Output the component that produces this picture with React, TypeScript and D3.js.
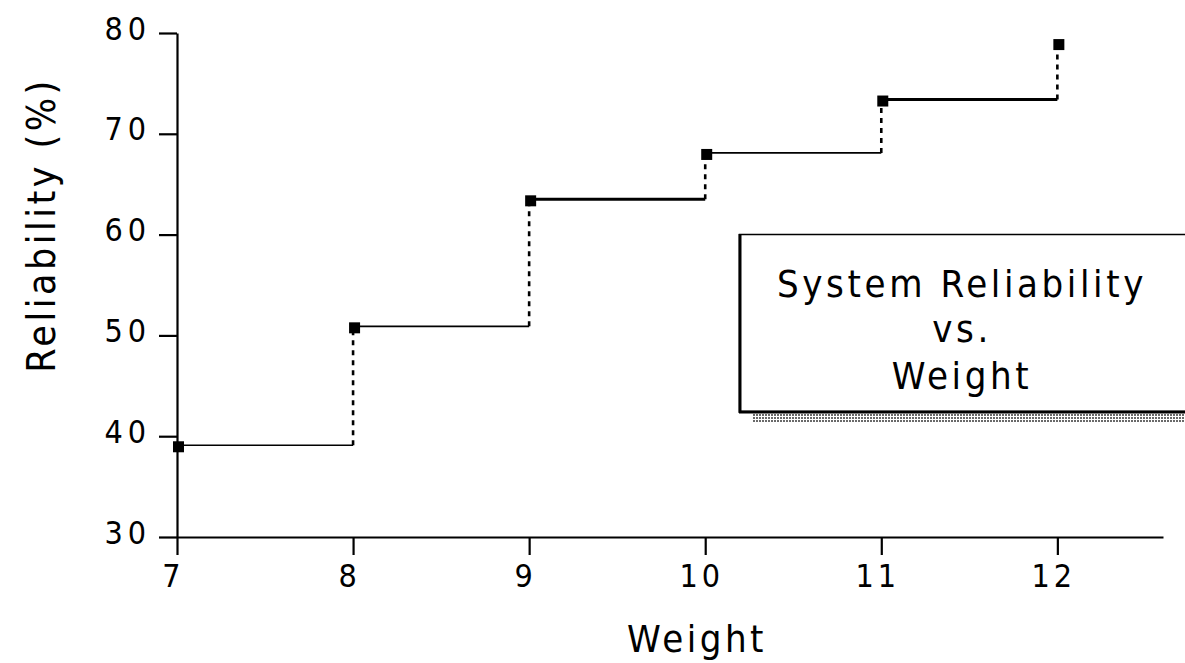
import React, { useRef, useEffect } from "react";
import * as d3 from "d3";

const weights = [7, 8, 9, 10, 11, 12];
const reliability = [39.1, 50.9, 63.5, 68.1, 73.4, 79.0];
const yTicks = [30, 40, 50, 60, 70, 80];
const xTicks = [7, 8, 9, 10, 11, 12];
const legendLines = ["System Reliability", "vs.", "Weight"];

// step widths as drawn in the original (some steps are heavier)
const stepWidths = [1.6, 1.6, 3, 1.8, 3];

const FONT = "'DejaVu Sans Condensed', 'DejaVu Sans', sans-serif";

const App: React.FC = () => {
  const svgRef = useRef<SVGSVGElement | null>(null);

  useEffect(() => {
    if (!svgRef.current) return;
    const svg = d3.select(svgRef.current);
    svg.selectAll("*").remove();

    const width = 1185;
    const height = 663;

    svg.attr("width", width).attr("height", height);

    svg
      .append("rect")
      .attr("width", width)
      .attr("height", height)
      .attr("fill", "#ffffff");

    const x = d3.scaleLinear().domain([7, 12.6]).range([177, 1163]);
    const y = d3.scaleLinear().domain([30, 80]).range([537, 33]);

    const defs = svg.append("defs");
    const pat = defs
      .append("pattern")
      .attr("id", "hatch")
      .attr("width", 3)
      .attr("height", 3)
      .attr("patternUnits", "userSpaceOnUse");
    pat.append("rect").attr("width", 3).attr("height", 3).attr("fill", "#ffffff");
    pat.append("rect").attr("width", 2).attr("height", 2).attr("fill", "#6a6a6a");

    // y axis
    const yAxis = d3
      .axisLeft(y)
      .tickValues(yTicks)
      .tickSize(18)
      .tickSizeOuter(0)
      .tickPadding(12)
      .tickFormat((d) => `${d}`);

    const gy = svg
      .append("g")
      .attr("transform", `translate(${x(7)},0)`)
      .call(yAxis);
    gy.select(".domain").attr("stroke", "#000").attr("stroke-width", 2.2);
    gy.selectAll(".tick line").attr("stroke", "#000").attr("stroke-width", 2.2);
    gy.selectAll(".tick text")
      .attr("fill", "#000")
      .attr("font-family", FONT)
      .attr("font-size", 32)
      .attr("letter-spacing", 5)
      .attr("dy", 6)
      .attr("x", -26);

    // x axis
    const xAxis = d3
      .axisBottom(x)
      .tickValues(xTicks)
      .tickSize(18)
      .tickSizeOuter(0)
      .tickPadding(8)
      .tickFormat((d) => `${d}`);

    const gx = svg
      .append("g")
      .attr("transform", `translate(0,${y(30)})`)
      .call(xAxis);
    gx.select(".domain").attr("stroke", "#000").attr("stroke-width", 2);
    gx.selectAll(".tick line").attr("stroke", "#000").attr("stroke-width", 2.2);
    gx.selectAll(".tick text")
      .attr("fill", "#000")
      .attr("font-family", FONT)
      .attr("font-size", 32)
      .attr("letter-spacing", 4)
      .attr("dy", 0)
      .attr("y", 50)
      .attr("dx", -4);

    // step line: horizontal solid, vertical dotted
    const plot = svg.append("g");
    for (let i = 0; i < weights.length - 1; i++) {
      plot
        .append("line")
        .attr("x1", x(weights[i]))
        .attr("x2", x(weights[i + 1]))
        .attr("y1", y(reliability[i]))
        .attr("y2", y(reliability[i]))
        .attr("stroke", "#000")
        .attr("stroke-width", stepWidths[i]);
      plot
        .append("line")
        .attr("x1", x(weights[i + 1]))
        .attr("x2", x(weights[i + 1]))
        .attr("y1", y(reliability[i]))
        .attr("y2", y(reliability[i + 1]))
        .attr("stroke", "#000")
        .attr("stroke-width", 2.6)
        .attr("stroke-dasharray", "5,5");
    }

    plot
      .selectAll("rect.pt")
      .data(weights)
      .join("rect")
      .attr("class", "pt")
      .attr("x", (d) => x(d) - 4)
      .attr("y", (_, i) => y(reliability[i]) - 4)
      .attr("width", 11)
      .attr("height", 11)
      .attr("fill", "#000");

    // axis titles
    svg
      .append("text")
      .attr("x", 697)
      .attr("y", 652)
      .attr("text-anchor", "middle")
      .attr("font-family", FONT)
      .attr("font-size", 38)
      .attr("letter-spacing", 3.5)
      .attr("fill", "#000")
      .text("Weight");

    svg
      .append("text")
      .attr("transform", "translate(55,225) rotate(-90)")
      .attr("text-anchor", "middle")
      .attr("font-family", FONT)
      .attr("font-size", 39)
      .attr("letter-spacing", 3.5)
      .attr("fill", "#000")
      .text("Reliability (%)");

    // legend box
    const lg = svg.append("g");
    lg.append("rect")
      .attr("x", 752)
      .attr("y", 414)
      .attr("width", 440)
      .attr("height", 8)
      .attr("fill", "url(#hatch)");
    lg.append("rect")
      .attr("x", 739.5)
      .attr("y", 234.5)
      .attr("width", 460)
      .attr("height", 177)
      .attr("fill", "#fff")
      .attr("stroke", "#000")
      .attr("stroke-width", 1.5);
    lg.append("line")
      .attr("x1", 740)
      .attr("x2", 740)
      .attr("y1", 234)
      .attr("y2", 413)
      .attr("stroke", "#000")
      .attr("stroke-width", 3);
    lg.append("line")
      .attr("x1", 739)
      .attr("x2", 1185)
      .attr("y1", 412)
      .attr("y2", 412)
      .attr("stroke", "#000")
      .attr("stroke-width", 3);

    const baselines = [297, 342, 389];
    lg.selectAll("text")
      .data(legendLines)
      .join("text")
      .attr("x", 962)
      .attr("y", (_, i) => baselines[i])
      .attr("text-anchor", "middle")
      .attr("font-family", FONT)
      .attr("font-size", 38)
      .attr("letter-spacing", 3.6)
      .attr("fill", "#000")
      .text((d) => d);
  }, []);

  return (
    <div style={{ position: "absolute", left: 0, top: 0, width: 1185, height: 663 }}>
      <svg ref={svgRef} style={{ display: "block" }} />
    </div>
  );
};

export default App;
